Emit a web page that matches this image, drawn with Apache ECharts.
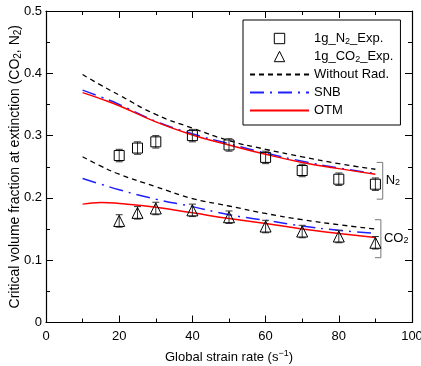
<!DOCTYPE html>
<html>
<head>
<meta charset="utf-8">
<script src="https://cdn.jsdelivr.net/npm/echarts@6/dist/echarts.min.js"></script>
<style>
  html, body { margin: 0; padding: 0; background: #fff; }
  #chart { width: 421px; height: 366px; }
</style>
</head>
<body>
<div id="chart"></div>
<script>
// model curves (strain rate, s^-1)
const curveX = [10, 15, 20, 30, 40, 50, 60, 70, 80, 90];
const noRadN2 = [0.398, 0.381, 0.365, 0.334, 0.312, 0.292, 0.278, 0.266, 0.255, 0.246];
const snbN2 = [0.373, 0.362, 0.350, 0.323, 0.303, 0.287, 0.272, 0.259, 0.248, 0.239];
const otmN2 = [0.369, 0.359, 0.348, 0.322, 0.301, 0.285, 0.270, 0.257, 0.247, 0.238];
const noRadCO2 = [0.266, 0.251, 0.238, 0.218, 0.199, 0.187, 0.175, 0.165, 0.157, 0.150];
const snbCO2 = [0.231, 0.222, 0.213, 0.198, 0.186, 0.173, 0.164, 0.155, 0.148, 0.143];
const otmCO2 = [0.190, 0.1926, 0.191, 0.185, 0.176, 0.167, 0.159, 0.150, 0.143, 0.1365];

// 1g experiments
const expX = [20, 25, 30, 40, 50, 60, 70, 80, 90];
const expN2 = [0.268, 0.280, 0.290, 0.300, 0.285, 0.265, 0.244, 0.230, 0.222];
const expCO2 = [0.163, 0.176, 0.183, 0.180, 0.169, 0.154, 0.146, 0.138, 0.128];
const expErr = 0.01;

// gas group brackets
const bracketLabels = ['N{s|2}', 'CO{s|2}'];
const bracketX = [92, 91.5];
const bracketTop = [0.257, 0.165];
const bracketBottom = [0.198, 0.104];

const FONT = 'Liberation Sans, Arial, sans-serif';
const subStyle = { fontSize: 9, fontFamily: FONT, verticalAlign: 'bottom', lineHeight: 11, color: '#000' };

const chart = echarts.init(document.getElementById('chart'));

const pairs = (xs, ys) => xs.map((x, i) => [x, ys[i]]);

function curve(name, ys, color, type, width) {
  return {
    name: name,
    type: 'line',
    data: pairs(curveX, ys),
    smooth: true,
    symbol: 'none',
    z: 2,
    lineStyle: { color: color, type: type, width: width },
    itemStyle: { color: 'rgba(0,0,0,0)' }
  };
}

// markers drawn as a line series with a hidden line, so the legend icon stays square
function markers(name, ys, symbol) {
  return {
    name: name,
    type: 'line',
    data: pairs(expX, ys),
    symbol: symbol,
    symbolSize: symbol === 'rect' ? 10 : 11,
    showSymbol: true,
    showAllSymbol: true,
    z: 4,
    lineStyle: { width: 0, opacity: 0 },
    itemStyle: { color: 'rgba(0,0,0,0)', borderColor: '#000', borderWidth: 1 }
  };
}

function errorBars(ys) {
  return {
    type: 'custom',
    silent: true,
    z: 3,
    encode: { x: 0, y: [1, 2] },
    data: expX.map((x, i) => [x, ys[i] - expErr, ys[i] + expErr]),
    renderItem: (params, api) => {
      const lo = api.coord([api.value(0), api.value(1)]);
      const hi = api.coord([api.value(0), api.value(2)]);
      const w = 3.5;
      const st = { stroke: '#333', lineWidth: 1 };
      return {
        type: 'group',
        children: [
          { type: 'line', shape: { x1: lo[0], y1: lo[1], x2: hi[0], y2: hi[1] }, style: st },
          { type: 'line', shape: { x1: lo[0] - w, y1: lo[1], x2: lo[0] + w, y2: lo[1] }, style: st },
          { type: 'line', shape: { x1: hi[0] - w, y1: hi[1], x2: hi[0] + w, y2: hi[1] }, style: st }
        ]
      };
    }
  };
}

const brackets = {
  type: 'custom',
  silent: true,
  z: 3,
  encode: { x: 0, y: [1, 2] },
  data: bracketX.map((x, i) => [x, bracketTop[i], bracketBottom[i], i]),
  renderItem: (params, api) => {
    const top = api.coord([api.value(0), api.value(1)]);
    const bot = api.coord([api.value(0), api.value(2)]);
    const t = 6;
    return {
      type: 'group',
      children: [
        { type: 'polyline', shape: { points: [[top[0] - t, top[1]], top, bot, [bot[0] - t, bot[1]]] }, style: { stroke: '#777', lineWidth: 1, fill: null } },
        {
          type: 'text',
          style: {
            x: top[0] + 3, y: (top[1] + bot[1]) / 2,
            text: bracketLabels[api.value(3)],
            font: '13px ' + FONT,
            fill: '#000',
            verticalAlign: 'middle',
            rich: { s: { fontSize: 9, fontFamily: FONT, verticalAlign: 'bottom', lineHeight: 11 } }
          }
        }
      ]
    };
  }
};

const tickCommon = { inside: true, length: 7, lineStyle: { color: '#000', width: 1 } };
const minorCommon = { show: true, splitNumber: 2, length: 4, lineStyle: { color: '#000', width: 1 } };
const lineCommon = { show: true, onZero: false, lineStyle: { color: '#000', width: 1.2 } };
const markerLegendStyle = { borderWidth: 1, borderColor: '#000', color: 'rgba(0,0,0,0)' };

const option = {
  animation: false,
  backgroundColor: '#fff',
  textStyle: { fontFamily: FONT },
  grid: { left: 46, right: 9, top: 11, bottom: 43.5, outerBoundsMode: 'none', containLabel: false },
  legend: {
    orient: 'vertical',
    left: 243,
    top: 20,
    data: [
      { name: '1g_N2_Exp.', itemStyle: markerLegendStyle },
      { name: '1g_CO2_Exp.', itemStyle: markerLegendStyle },
      'Without Rad.', 'SNB', 'OTM'
    ],
    itemWidth: 59,
    itemHeight: 13,
    itemGap: 3,
    padding: [11, 7, 7, 6],
    borderColor: '#000',
    borderWidth: 1,
    backgroundColor: '#fff',
    formatter: (name) => name.replace(/(N|CO)2/, '$1{s|2}'),
    textStyle: { fontSize: 13, fontFamily: FONT, color: '#000', lineHeight: 15, rich: { s: subStyle } }
  },
  xAxis: [
    {
      type: 'value', min: 0, max: 100, interval: 20,
      name: 'Global strain rate (s{p|−1})',
      nameLocation: 'middle', nameGap: 27, nameMoveOverlap: false,
      nameTextStyle: {
        fontSize: 13, fontFamily: FONT, color: '#000', lineHeight: 15,
        rich: { p: { fontSize: 9, fontFamily: FONT, verticalAlign: 'top', lineHeight: 11, color: '#000' } }
      },
      axisLine: lineCommon,
      axisTick: tickCommon,
      minorTick: minorCommon,
      splitLine: { show: false },
      axisLabel: { fontSize: 13, color: '#000', margin: 7, fontFamily: FONT }
    },
    {
      type: 'value', position: 'top', min: 0, max: 100, interval: 20,
      axisLine: lineCommon, axisTick: tickCommon, minorTick: minorCommon,
      splitLine: { show: false }, axisLabel: { show: false }
    }
  ],
  yAxis: [
    {
      type: 'value', min: 0, max: 0.5, interval: 0.1,
      name: 'Critical volume fraction at extinction (CO{s|2}, N{s|2})',
      nameLocation: 'middle', nameGap: 23, nameMoveOverlap: false,
      nameTextStyle: {
        fontSize: 14, fontFamily: FONT, color: '#000', lineHeight: 16,
        rich: { s: { fontSize: 10, fontFamily: FONT, verticalAlign: 'bottom', lineHeight: 12, color: '#000' } }
      },
      axisLine: lineCommon,
      axisTick: tickCommon,
      minorTick: minorCommon,
      splitLine: { show: false },
      axisLabel: { fontSize: 13, color: '#000', margin: 4, fontFamily: FONT }
    },
    {
      type: 'value', position: 'right', min: 0, max: 0.5, interval: 0.1,
      axisLine: lineCommon, axisTick: tickCommon, minorTick: minorCommon,
      splitLine: { show: false }, axisLabel: { show: false }
    }
  ],
  series: [
    curve('Without Rad.', noRadN2, '#000', [5, 4], 1.3),
    curve('Without Rad.', noRadCO2, '#000', [5, 4], 1.3),
    curve('SNB', snbN2, '#2020ff', [14, 6, 2, 6], 1.5),
    curve('SNB', snbCO2, '#2020ff', [14, 6, 2, 6], 1.5),
    curve('OTM', otmN2, '#ff0000', 'solid', 1.5),
    curve('OTM', otmCO2, '#ff0000', 'solid', 1.5),
    errorBars(expN2),
    errorBars(expCO2),
    markers('1g_N2_Exp.', expN2, 'rect'),
    markers('1g_CO2_Exp.', expCO2, 'triangle'),
    brackets
  ]
};

chart.setOption(option);
window.addEventListener('resize', () => chart.resize());
</script>
</body>
</html>
